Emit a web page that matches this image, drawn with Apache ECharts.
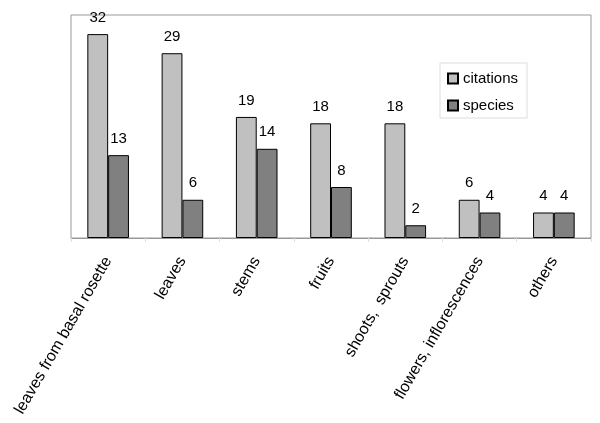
<!DOCTYPE html>
<html><head><meta charset="utf-8">
<script src="https://cdn.jsdelivr.net/npm/echarts@6/dist/echarts.min.js"></script>
<style>html,body{margin:0;padding:0;background:#fff}#c{width:600px;height:423px}</style>
</head><body><div id="c"></div>
<script>
var categories = ["leaves from basal rosette","leaves","stems","fruits","shoots,  sprouts","flowers, inflorescences","others"];
var citations = [32,29,19,18,18,6,4];
var species = [13,6,14,8,2,4,4];
var seriesNames = ["citations","species"];

var chart = echarts.init(document.getElementById('c'));
var font = 'Liberation Sans, Arial, sans-serif';
var lbl = {show:true, position:'top', distance:9, color:'#000', fontSize:15, fontFamily:font};
chart.setOption({
  animation:false,
  grid:{left:71, right:9, top:15, bottom:185, show:true, borderColor:'#999', borderWidth:1},
  legend:{
    orient:'vertical', left:440, top:63, data:seriesNames,
    itemWidth:10, itemHeight:10, itemGap:12, padding:[8,9,5,7],
    backgroundColor:'#fff', borderColor:'#ddd', borderWidth:1,
    textStyle:{fontSize:15, fontFamily:font, color:'#000'},
    icon:'rect'
  },
  xAxis:{type:'category', data:categories,
    axisLine:{lineStyle:{color:'#999'}},
    axisTick:{show:true, length:4, lineStyle:{color:'#ddd'}},
    axisLabel:{rotate:60, interval:0, margin:20, fontSize:16, fontFamily:font, color:'#000'}
  },
  yAxis:{type:'value', min:0, max:35, show:false, splitLine:{show:false}},
  series:[
    {name:seriesNames[0], type:'bar', data:citations, barWidth:'28%', barGap:'0%',
     itemStyle:{color:'#c0c0c0', borderColor:'#000', borderWidth:1}, label:lbl},
    {name:seriesNames[1], type:'bar', data:species, barWidth:'28%', barGap:'0%',
     itemStyle:{color:'#808080', borderColor:'#000', borderWidth:1}, label:lbl}
  ]
});
</script></body></html>
